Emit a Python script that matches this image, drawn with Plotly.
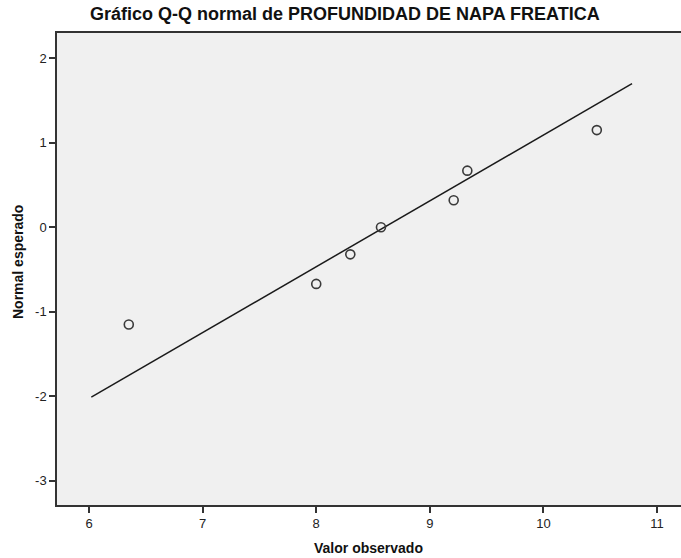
import plotly.graph_objects as go

# Observed values and expected normal quantiles
x_obs = [6.35, 8.00, 8.30, 8.57, 9.21, 9.33, 10.47]
y_exp = [-1.15, -0.67, -0.32, 0.00, 0.32, 0.67, 1.15]

# Reference line endpoints
line_x = [6.02, 10.78]
line_y = [-2.01, 1.70]

x_ticks = [6, 7, 8, 9, 10, 11]
x_tick_labels = ["6", "7", "8", "9", "10", "11"]
y_ticks = [-3, -2, -1, 0, 1, 2]
y_tick_labels = ["-3", "-2", "-1", "0", "1", "2"]

W, H = 681, 558
L, R, T = 57, 0, 33
B = H - 505

fig = go.Figure()
fig.add_trace(go.Scatter(
    x=line_x, y=line_y, mode="lines",
    line=dict(color="#1a1a1a", width=1.5), hoverinfo="skip", showlegend=False))
fig.add_trace(go.Scatter(
    x=x_obs, y=y_exp, mode="markers",
    marker=dict(symbol="circle-open", size=9, color="#3a3a3a", line=dict(width=1.6, color="#3a3a3a")),
    showlegend=False))

axis_font = dict(family="Liberation Sans, Arial, sans-serif", size=13, color="#222222")

pw = W - L - R
ph = H - T - B


def px(xp):
    return (xp - L) / pw


def py(yp):
    return (H - B - yp) / ph


fig.update_layout(
    width=W, height=H,
    margin=dict(l=L, r=R, t=T, b=B, autoexpand=False),
    paper_bgcolor="white", plot_bgcolor="#F0F0F0",
    font=dict(family="Liberation Sans, Arial, sans-serif", color="#111111"),
    xaxis=dict(range=[5.718, 11.211], tickvals=x_ticks, ticktext=x_tick_labels,
               ticks="outside", ticklen=6,
               tickwidth=1.5, tickcolor="#333333", showgrid=False, zeroline=False,
               showline=True, linecolor="#333333", linewidth=1.5, mirror=True,
               tickfont=axis_font, automargin=False),
    yaxis=dict(range=[-3.286, 2.299], tickvals=y_ticks, ticktext=y_tick_labels,
               ticks="outside", ticklen=6,
               tickwidth=1.5, tickcolor="#333333", showgrid=False, zeroline=False,
               showline=True, linecolor="#333333", linewidth=1.5, mirror=False,
               tickfont=axis_font, automargin=False),
    annotations=[
        dict(text="<b>Gráfico Q-Q normal de PROFUNDIDAD DE NAPA FREATICA</b>",
             xref="paper", yref="paper", x=px(345), y=py(14),
             xanchor="center", yanchor="middle", showarrow=False,
             font=dict(size=18, color="#111111")),
        dict(text="<b>Valor observado</b>",
             xref="paper", yref="paper", x=px(368), y=py(548),
             xanchor="center", yanchor="middle", showarrow=False,
             font=dict(size=14, color="#111111")),
        dict(text="<b>Normal esperado</b>", textangle=-90,
             xref="paper", yref="paper", x=px(18), y=py(262),
             xanchor="center", yanchor="middle", showarrow=False,
             font=dict(size=14, color="#111111")),
    ],
)

fig.write_html("out.html", config={"displayModeBar": False},
               post_script="document.body.style.margin='0';")
